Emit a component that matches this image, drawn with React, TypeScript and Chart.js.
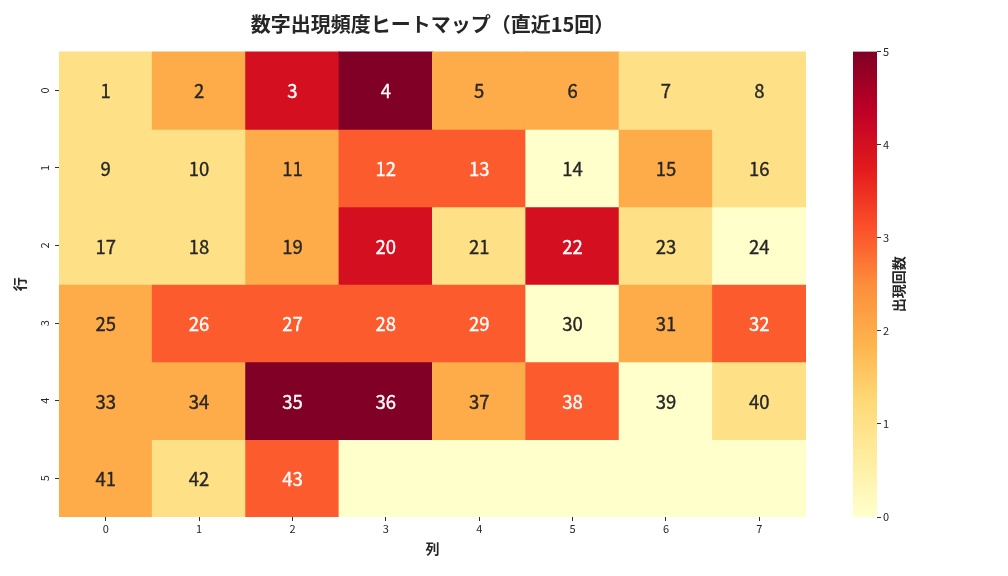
import React, { useEffect, useRef } from "react";
import { Chart, registerables } from "chart.js";

Chart.register(...registerables);

const FONT = '"Noto Sans CJK JP", "Noto Sans", sans-serif';

const columnLabels = ["0", "1", "2", "3", "4", "5", "6", "7"];
const rowLabels = ["0", "1", "2", "3", "4", "5"];

// appearance counts per row (rows of the heatmap)
const row0Counts = [1, 2, 4, 5, 2, 2, 1, 1];
const row1Counts = [1, 1, 2, 3, 3, 0, 2, 1];
const row2Counts = [1, 1, 2, 4, 1, 4, 1, 0];
const row3Counts = [2, 3, 3, 3, 3, 0, 2, 3];
const row4Counts = [2, 2, 5, 5, 2, 3, 0, 1];
const row5Counts = [2, 1, 3, 0, 0, 0, 0, 0];

// annotation numbers per row (null = blank cell)
const row0Numbers = [1, 2, 3, 4, 5, 6, 7, 8];
const row1Numbers = [9, 10, 11, 12, 13, 14, 15, 16];
const row2Numbers = [17, 18, 19, 20, 21, 22, 23, 24];
const row3Numbers = [25, 26, 27, 28, 29, 30, 31, 32];
const row4Numbers = [33, 34, 35, 36, 37, 38, 39, 40];
const row5Numbers = [41, 42, 43, null, null, null, null, null];

const colorbarTicks = [0, 1, 2, 3, 4, 5];

const countRows = [row0Counts, row1Counts, row2Counts, row3Counts, row4Counts, row5Counts];
const numberRows = [row0Numbers, row1Numbers, row2Numbers, row3Numbers, row4Numbers, row5Numbers];

const VMIN = 0;
const VMAX = 5;

const YLORRD = [
  [255, 255, 204],
  [255, 237, 160],
  [254, 217, 118],
  [254, 178, 76],
  [253, 141, 60],
  [252, 78, 42],
  [227, 26, 28],
  [189, 0, 38],
  [128, 0, 38],
];

function cmap(v: number): string {
  let t = (v - VMIN) / (VMAX - VMIN);
  t = Math.max(0, Math.min(1, t));
  const pos = t * (YLORRD.length - 1);
  const i = Math.min(Math.floor(pos), YLORRD.length - 2);
  const f = pos - i;
  const a = YLORRD[i];
  const b = YLORRD[i + 1];
  const c = a.map((x, k) => Math.round(x + (b[k] - x) * f));
  return `rgb(${c[0]},${c[1]},${c[2]})`;
}

const TEXT_DARK = "#262626";

const cellTextPlugin = {
  id: "cellText",
  afterDatasetsDraw(chart: any) {
    const ctx = chart.ctx;
    ctx.save();
    ctx.font = `normal 18.5px ${FONT}`;
    ctx.textAlign = "center";
    ctx.textBaseline = "middle";
    ctx.lineWidth = 0.35;
    ctx.lineJoin = "round";
    numberRows.forEach((nums, r) => {
      const meta = chart.getDatasetMeta(r);
      meta.data.forEach((el: any, c: number) => {
        const n = nums[c];
        if (n === null || n === undefined) return;
        const v = countRows[r][c];
        const col = v >= 3 ? "#ffffff" : TEXT_DARK;
        ctx.fillStyle = col;
        ctx.strokeStyle = col;
        const ty = (el.y + el.base) / 2 + 1;
        ctx.fillText(String(n), el.x, ty);
        ctx.strokeText(String(n), el.x, ty);
      });
    });
    // rotated y tick labels
    const ys = chart.scales.y;
    ctx.font = `normal 11px ${FONT}`;
    ctx.fillStyle = TEXT_DARK;
    rowLabels.forEach((lab, i) => {
      const py = ys.getPixelForValue(i + 0.5);
      ctx.save();
      ctx.translate(ys.right - 14, py);
      ctx.rotate(-Math.PI / 2);
      ctx.textAlign = "center";
      ctx.textBaseline = "middle";
      ctx.fillText(lab, 0, 0);
      ctx.restore();
    });
    ctx.restore();
  },
};

const colorbarLabelPlugin = {
  id: "cbLabel",
  afterDraw(chart: any) {
    const { ctx, chartArea } = chart;
    ctx.save();
    ctx.font = `bold 14px ${FONT}`;
    ctx.fillStyle = TEXT_DARK;
    ctx.translate(chartArea.right + 22, (chartArea.top + chartArea.bottom) / 2);
    ctx.rotate(-Math.PI / 2);
    ctx.textAlign = "center";
    ctx.textBaseline = "middle";
    ctx.fillText("出現回数", 0, 0);
    ctx.restore();
  },
};

export default function App() {
  const mainRef = useRef<HTMLCanvasElement>(null);
  const cbRef = useRef<HTMLCanvasElement>(null);

  useEffect(() => {
    const datasets = countRows.map((counts, r) => ({
      label: `row ${rowLabels[r]}`,
      data: counts.map(() => 1),
      backgroundColor: counts.map((v) => cmap(v)),
      borderWidth: 0,
      inflateAmount: 0.5,
      barPercentage: 1,
      categoryPercentage: 1,
    }));

    const main = new Chart(mainRef.current!, {
      type: "bar",
      data: { labels: columnLabels, datasets },
      options: {
        responsive: false,
        animation: false,
        layout: { padding: { left: 0, right: 202, top: 0, bottom: 0 } },
        plugins: {
          legend: { display: false },
          tooltip: { enabled: false },
          title: {
            display: true,
            fullSize: false,
            text: "数字出現頻度ヒートマップ（直近15回）",
            color: TEXT_DARK,
            font: { family: FONT, size: 20, weight: "bold" },
            padding: { top: 12, bottom: 15.6 },
          },
        },
        scales: {
          x: {
            type: "category",
            stacked: true,
            grid: {
              display: true,
              offset: false,
              drawOnChartArea: false,
              drawTicks: true,
              tickLength: 4,
              color: "#333",
            },
            border: { display: false },
            ticks: { font: { family: FONT, size: 11 }, color: TEXT_DARK, padding: 1, maxRotation: 0 },
            title: {
              display: true,
              text: "列",
              color: TEXT_DARK,
              font: { family: FONT, size: 14, weight: "bold" },
              padding: { top: 4, bottom: 18.6 },
            },
            afterFit: (s: any) => {
              s.height = 59;
            },
          },
          y: {
            type: "linear",
            stacked: true,
            reverse: true,
            min: 0,
            max: rowLabels.length,
            afterBuildTicks: (s: any) => {
              s.ticks = rowLabels.map((_, i) => ({ value: i + 0.5 }));
            },
            grid: { display: true, drawOnChartArea: false, drawTicks: true, tickLength: 4, color: "#333" },
            border: { display: false },
            ticks: { display: false },
            title: {
              display: true,
              text: "行",
              color: TEXT_DARK,
              font: { family: FONT, size: 14, weight: "bold" },
              padding: { top: 11.6, bottom: 0 },
            },
            afterFit: (s: any) => {
              s.width = 59;
            },
          },
        },
      },
      plugins: [cellTextPlugin],
    } as any);

    const cb = new Chart(cbRef.current!, {
      type: "bar",
      data: {
        labels: ["cb"],
        datasets: [
          {
            data: [VMAX],
            borderWidth: 0,
            barPercentage: 1,
            categoryPercentage: 1,
            backgroundColor: (c: any) => {
              const area = c.chart.chartArea;
              if (!area) return cmap(VMAX);
              const g = c.chart.ctx.createLinearGradient(0, area.bottom, 0, area.top);
              for (let i = 0; i <= 40; i++) {
                const t = i / 40;
                g.addColorStop(t, cmap(VMIN + t * (VMAX - VMIN)));
              }
              return g;
            },
          },
        ],
      },
      options: {
        responsive: false,
        animation: false,
        layout: { padding: { left: 853, right: 0, top: 51.6, bottom: 59 } },
        plugins: { legend: { display: false }, tooltip: { enabled: false }, title: { display: false } },
        scales: {
          x: { display: false },
          y: {
            position: "right",
            min: VMIN,
            max: VMAX,
            afterBuildTicks: (s: any) => {
              s.ticks = colorbarTicks.map((v) => ({ value: v }));
            },
            grid: { display: true, drawOnChartArea: false, drawTicks: true, tickLength: 4, color: "#333" },
            border: { display: false },
            ticks: { font: { family: FONT, size: 11 }, color: TEXT_DARK, padding: 2 },
            afterFit: (s: any) => {
              s.width = 1008 - 877;
            },
          },
        },
      },
      plugins: [colorbarLabelPlugin],
    } as any);

    return () => {
      main.destroy();
      cb.destroy();
    };
  }, []);

  return (
    <div style={{ position: "absolute", left: 0, top: 0, width: 1008, height: 576, background: "#fff" }}>
      <canvas ref={mainRef} width={1008} height={576} style={{ position: "absolute", left: 0, top: 0 }} />
      <canvas
        ref={cbRef}
        width={1008}
        height={576}
        style={{ position: "absolute", left: 0, top: 0, pointerEvents: "none" }}
      />
    </div>
  );
}
